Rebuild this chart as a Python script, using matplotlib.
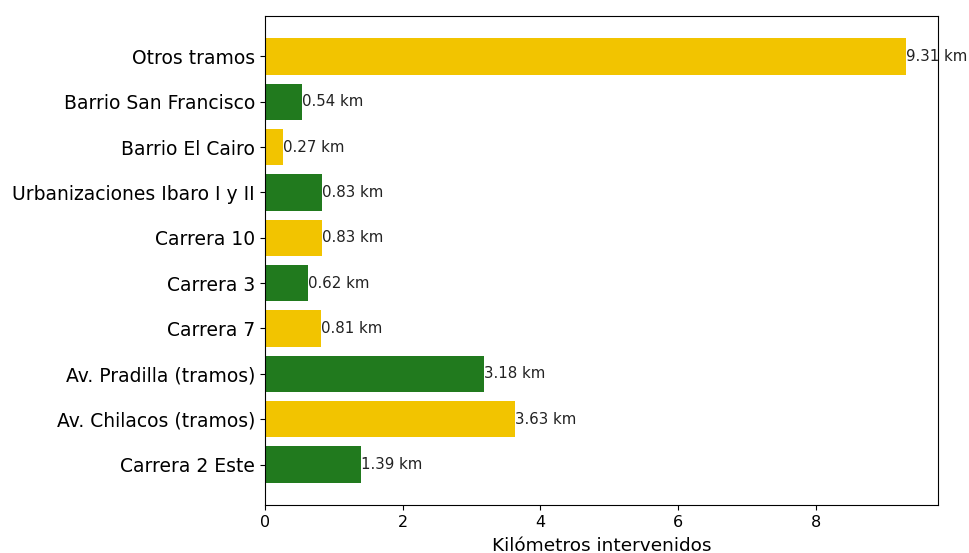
import matplotlib
matplotlib.use("Agg")
import matplotlib.pyplot as plt

tramos = ["Carrera 2 Este", "Av. Chilacos (tramos)", "Av. Pradilla (tramos)",
          "Carrera 7", "Carrera 3", "Carrera 10", "Urbanizaciones Ibaro I y II",
          "Barrio El Cairo", "Barrio San Francisco", "Otros tramos"]
km = [1.39, 3.63, 3.18, 0.81, 0.62, 0.83, 0.83, 0.27, 0.54, 9.31]

verde = "#217a1e"
amarillo = "#f2c400"
colores = [verde if i % 2 == 0 else amarillo for i in range(len(tramos))]

fig = plt.figure(figsize=(9.7, 5.53), dpi=100)
ax = fig.add_axes([0.273, 0.087, 0.694, 0.884])

ax.barh(tramos, km, color=colores)
for i, v in enumerate(km):
    ax.text(v, i, "%.2f km" % v, va="center", ha="left", fontsize=10.8, color="#222222")

ax.set_xlabel("Kilómetros intervenidos", fontsize=13.3, labelpad=5)
ax.tick_params(axis="x", labelsize=11.5)
ax.tick_params(axis="y", labelsize=13.5)

fig.savefig("out.png", dpi=100)
